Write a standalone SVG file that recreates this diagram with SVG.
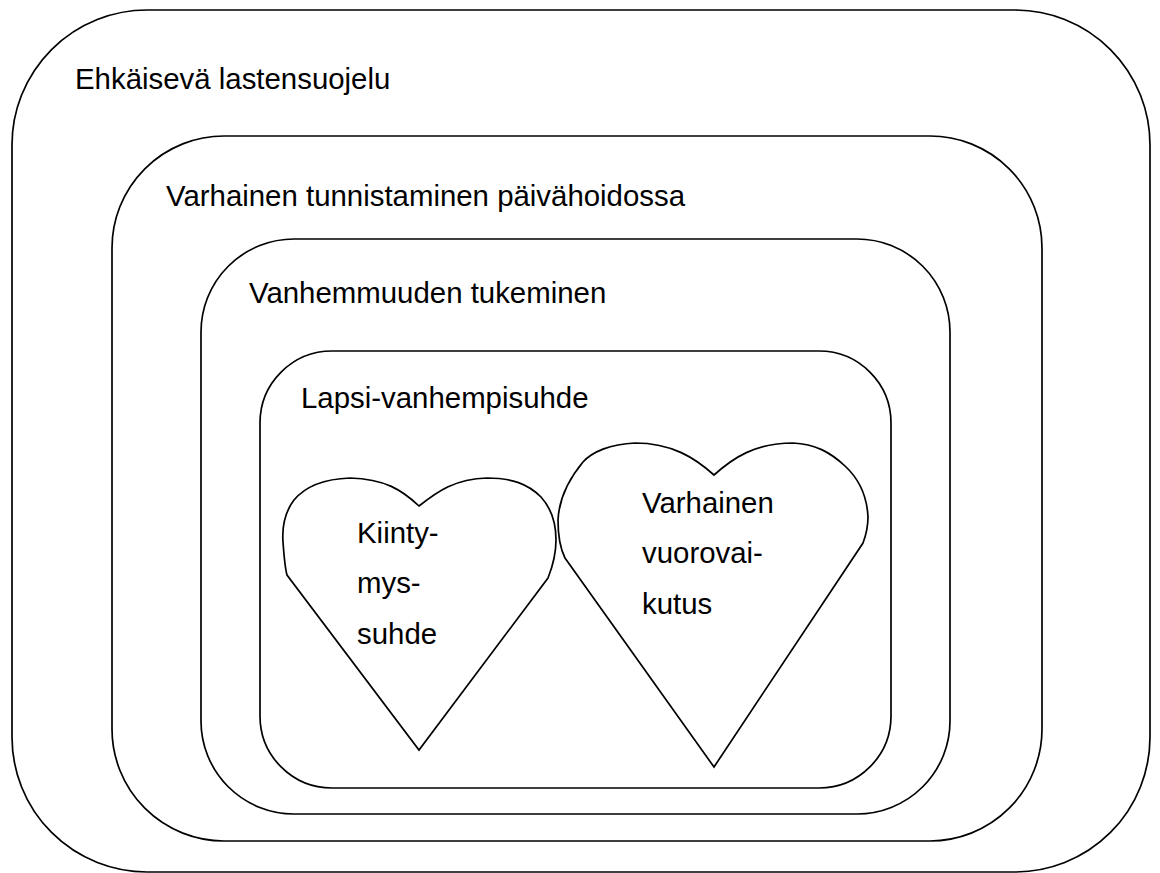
<svg xmlns="http://www.w3.org/2000/svg" width="1160" height="873" viewBox="0 0 1160 873">
<style>
.box{fill:none;stroke:#000;stroke-width:1.7}
.heart{fill:#fff;stroke:#000;stroke-width:1.7;stroke-linejoin:miter}
.lbl{font-family:"Liberation Sans",Arial,sans-serif;font-size:29.4px;fill:#000}
</style>
<rect width="1160" height="873" fill="#fff"/>
<g id="ehkaiseva">
<rect class="box" x="12" y="10" width="1138" height="862" rx="135" ry="135"/>
<text class="lbl" x="75" y="89">Ehkäisevä lastensuojelu</text>
</g>
<g id="varhainen-tunnistaminen">
<rect class="box" x="112" y="136" width="930" height="705" rx="112" ry="112"/>
<text class="lbl" x="166" y="206">Varhainen tunnistaminen päivähoidossa</text>
</g>
<g id="vanhemmuuden-tukeminen">
<rect class="box" x="201" y="239" width="749" height="575" rx="93" ry="93"/>
<text class="lbl" x="249" y="303">Vanhemmuuden tukeminen</text>
</g>
<g id="lapsi-vanhempisuhde">
<rect class="box" x="260" y="351" width="631" height="437" rx="72" ry="72"/>
<text class="lbl" x="301" y="408">Lapsi-vanhempisuhde</text>
</g>
<g id="kiintymyssuhde">
<path class="heart" d="M419,506 C402,490 385,479 350,478 C322,479 304,488 294,500 C285,512 282,528 283,542 C284,556 285,568 287,575 L419,750 L548,578 C552,568 556,555 556,540 C556,522 551,508 541,497 C528,484 512,478 487,478 C455,479 438,491 419,506 Z"/>
<text class="lbl" x="357" y="543">Kiinty-</text>
<text class="lbl" x="357" y="593">mys-</text>
<text class="lbl" x="357" y="644">suhde</text>
</g>
<g id="varhainen-vuorovaikutus">
<path class="heart" d="M714,475 C695,458 672,443 635,443 C610,444 592,452 583,462 C568,480 559,500 558,520 C558,538 561,550 565,558 L714,767 L863,543 C866,535 868,527 868,517 C867,496 858,478 845,466 C830,452 815,444 793,443 C755,443 733,458 714,475 Z"/>
<text class="lbl" x="642" y="513">Varhainen</text>
<text class="lbl" x="642" y="563">vuorovai-</text>
<text class="lbl" x="642" y="614">kutus</text>
</g>
<g id="connectors"/>
</svg>
